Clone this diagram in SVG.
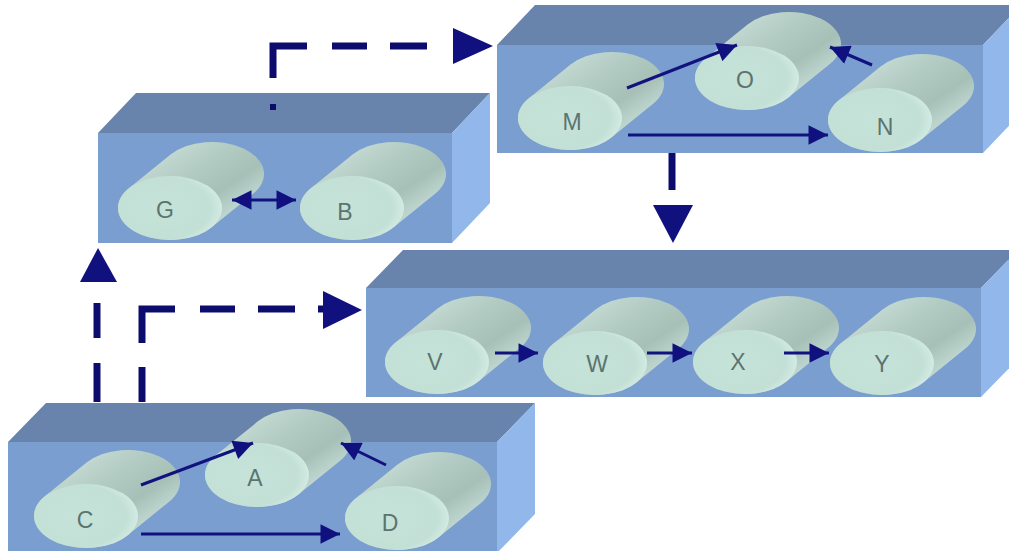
<svg xmlns="http://www.w3.org/2000/svg" width="1009" height="551" viewBox="0 0 1009 551">
<style>
.top{fill:#6884ad}
.front{fill:#7b9ed1}
.side{fill:#91b7eb}
.lbl{font-family:"Liberation Sans",Arial,sans-serif;font-size:23px;fill:#5c746f;text-anchor:middle}
.conn{stroke:#12127e;stroke-width:3;fill:none}
.dash{stroke:#0c0c6e;stroke-width:7;fill:none}
.head{fill:#10107e}
</style>
<defs>
<linearGradient id="body" x1="0" y1="0" x2="1" y2="1">
<stop offset="0" stop-color="#d9ebe5"/>
<stop offset="0.4" stop-color="#b2cbc3"/>
<stop offset="0.6" stop-color="#a6c0b8"/>
<stop offset="0.85" stop-color="#cfe6df"/>
<stop offset="1" stop-color="#e8f6f2"/>
</linearGradient>
<radialGradient id="face" cx="0.4" cy="0.5" r="0.65">
<stop offset="0" stop-color="#c6e3d9"/>
<stop offset="0.75" stop-color="#c3e0d6"/>
<stop offset="1" stop-color="#d8efe8"/>
</radialGradient>
<g id="cyl">
<path d="M-41.4,-19.4 L0.6,-53.4 A52,32 0 0 1 83.4,-14.6 L41.4,19.4 A52,32 0 0 1 -41.4,-19.4 Z" fill="url(#body)"/>
<ellipse cx="0" cy="0" rx="52" ry="32" fill="url(#face)"/>
</g>
<marker id="ah" viewBox="0 0 10 10" refX="10" refY="5" markerWidth="7" markerHeight="6.5" orient="auto-start-reverse">
<path d="M0,0 L10,5 L0,10 Z" fill="#10107e"/>
</marker>
</defs>

<g id="box-MON">
<polygon class="top" points="497,45 535,5 1021,5 983,45"/>
<rect class="front" x="497" y="45" width="486" height="108"/>
<polygon class="side" points="983,45 1021,5 1021,113 983,153"/>
</g>
<g id="box-GB">
<polygon class="top" points="98,133 136,93 490,93 452,133"/>
<rect class="front" x="98" y="133" width="354" height="110"/>
<polygon class="side" points="452,133 490,93 490,203 452,243"/>
</g>
<g id="box-VWXY">
<polygon class="top" points="366,288 403,250 1018,250 981,288"/>
<rect class="front" x="366" y="288" width="615" height="109"/>
<polygon class="side" points="981,288 1018,250 1018,359 981,397"/>
</g>
<g id="box-CAD">
<polygon class="top" points="8,442 46,403 535,403 497,442"/>
<rect class="front" x="8" y="442" width="489" height="112"/>
<polygon class="side" points="497,442 535,403 535,514 497,553"/>
</g>

<g id="node-M"><use href="#cyl" x="570" y="118"/><text class="lbl" x="572" y="130">M</text></g>
<g id="node-O"><use href="#cyl" x="747" y="78"/><text class="lbl" x="745" y="88">O</text></g>
<g id="node-N"><use href="#cyl" x="880" y="120"/><text class="lbl" x="885" y="135">N</text></g>
<g id="node-G"><use href="#cyl" x="170" y="208"/><text class="lbl" x="165" y="218">G</text></g>
<g id="node-B"><use href="#cyl" x="352" y="208"/><text class="lbl" x="345" y="220">B</text></g>
<g id="node-V"><use href="#cyl" x="437" y="362"/><text class="lbl" x="435" y="370">V</text></g>
<g id="node-W"><use href="#cyl" x="595" y="363"/><text class="lbl" x="597" y="372">W</text></g>
<g id="node-X"><use href="#cyl" x="745" y="362"/><text class="lbl" x="738" y="370">X</text></g>
<g id="node-Y"><use href="#cyl" x="882" y="363"/><text class="lbl" x="882" y="372">Y</text></g>
<g id="node-C"><use href="#cyl" x="86" y="516"/><text class="lbl" x="85" y="528">C</text></g>
<g id="node-A"><use href="#cyl" x="257" y="475"/><text class="lbl" x="255" y="486">A</text></g>
<g id="node-D"><use href="#cyl" x="397" y="518"/><text class="lbl" x="390" y="531">D</text></g>

<g id="connectors">
<line class="conn" x1="627" y1="88" x2="737" y2="45" marker-end="url(#ah)"/>
<line class="conn" x1="872" y1="65" x2="830" y2="47" marker-end="url(#ah)"/>
<line class="conn" x1="628" y1="135" x2="828" y2="135" marker-end="url(#ah)"/>
<line class="conn" x1="232" y1="200" x2="296" y2="200" marker-start="url(#ah)" marker-end="url(#ah)"/>
<line class="conn" x1="495" y1="353" x2="538" y2="353" marker-end="url(#ah)"/>
<line class="conn" x1="647" y1="353" x2="692" y2="353" marker-end="url(#ah)"/>
<line class="conn" x1="784" y1="353" x2="829" y2="353" marker-end="url(#ah)"/>
<line class="conn" x1="141" y1="485" x2="253" y2="443" marker-end="url(#ah)"/>
<line class="conn" x1="386" y1="465" x2="341" y2="443" marker-end="url(#ah)"/>
<line class="conn" x1="141" y1="534" x2="340" y2="534" marker-end="url(#ah)"/>

<rect x="270" y="104" width="6" height="6" fill="#0c0c6e"/>
<path class="dash" d="M273,78 V46 H307"/>
<line class="dash" x1="332" y1="46" x2="367" y2="46"/>
<line class="dash" x1="390" y1="46" x2="427" y2="46"/>
<polygon class="head" points="453,28 493,46 453,64"/>

<line class="dash" x1="672" y1="153" x2="672" y2="190"/>
<polygon class="head" points="653,205 693,205 673,243"/>

<polygon class="head" points="80,282 117,282 98,248"/>
<line class="dash" x1="97" y1="303" x2="97" y2="338"/>
<line class="dash" x1="97" y1="363" x2="97" y2="402"/>

<line class="dash" x1="142" y1="367" x2="142" y2="402"/>
<path class="dash" d="M142,343 V309 H175"/>
<line class="dash" x1="200" y1="309" x2="235" y2="309"/>
<line class="dash" x1="258" y1="309" x2="295" y2="309"/>
<line class="dash" x1="318" y1="309" x2="326" y2="309"/>
<polygon class="head" points="323,291 323,329 362,310"/>
</g>
</svg>
